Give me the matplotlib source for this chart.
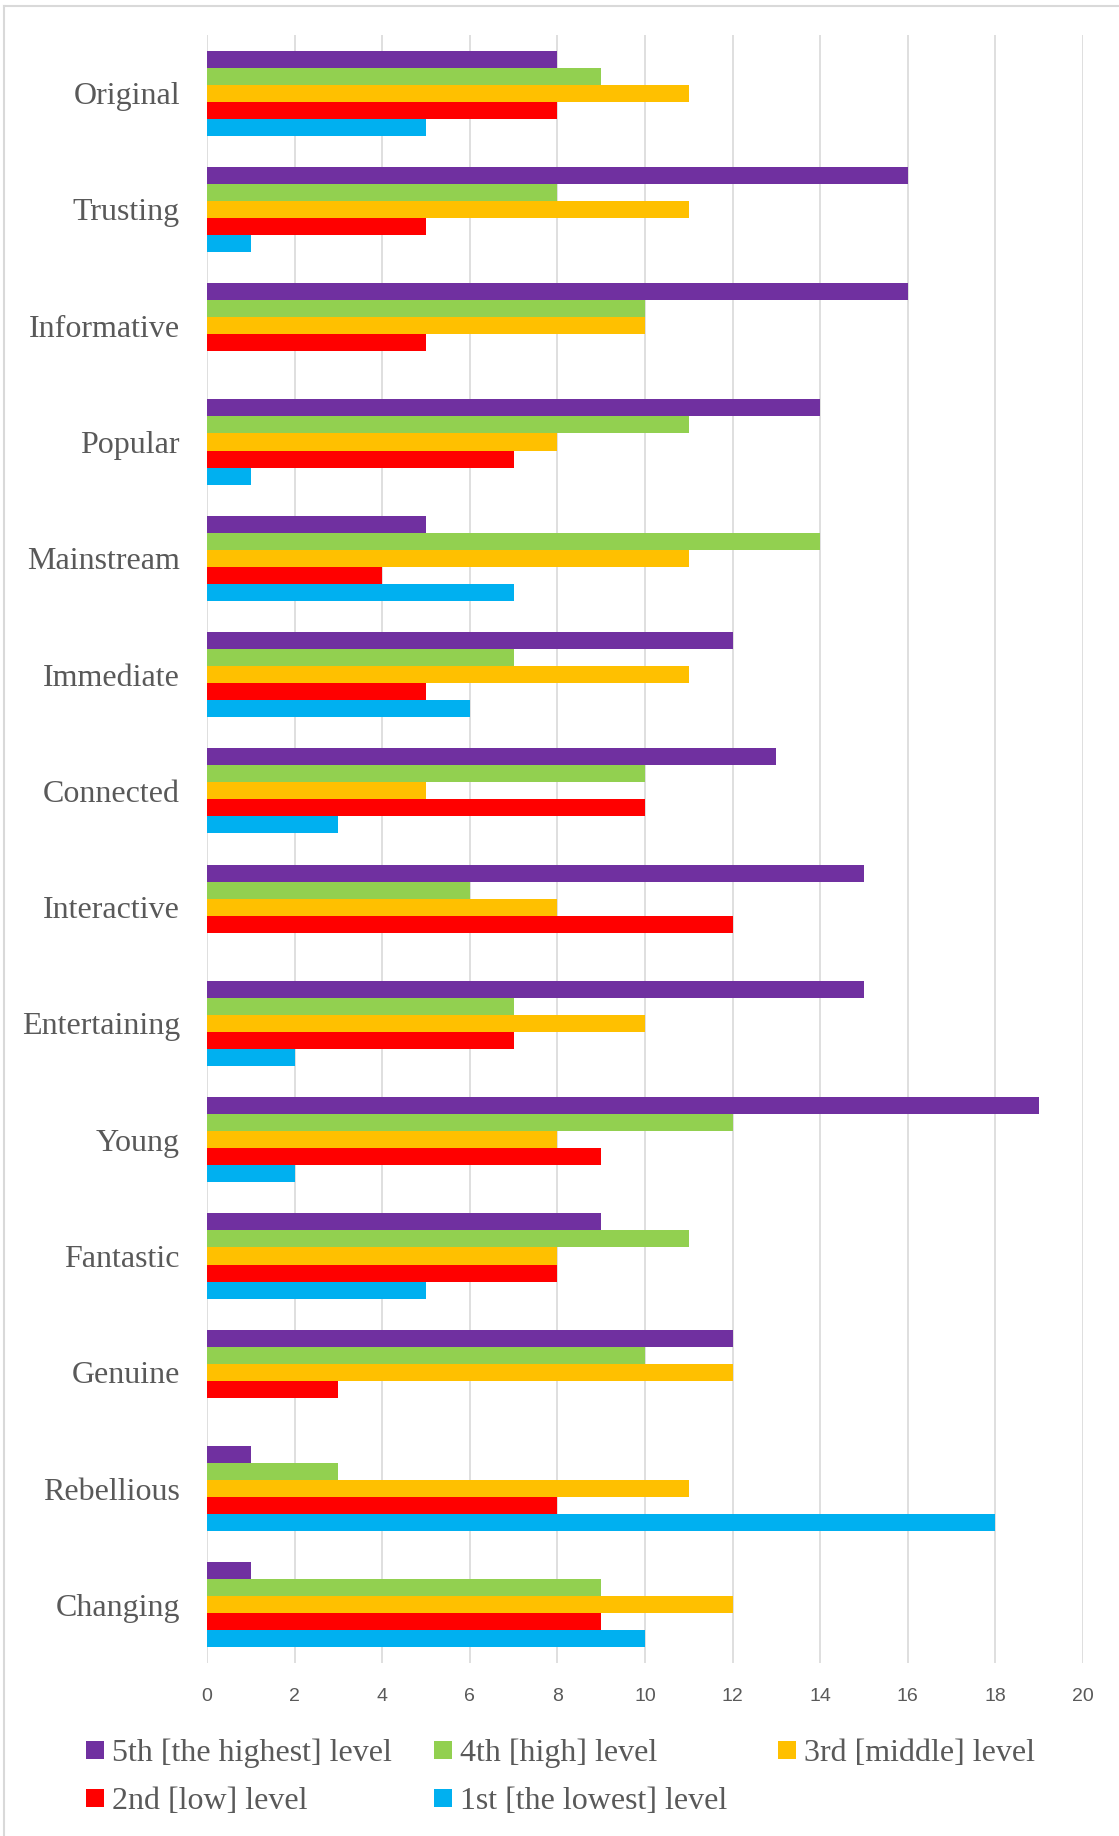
import matplotlib.pyplot as plt
import numpy as np
from matplotlib.lines import Line2D

categories = ["Original", "Trusting", "Informative", "Popular", "Mainstream",
              "Immediate", "Connected", "Interactive", "Entertaining", "Young",
              "Fantastic", "Genuine", "Rebellious", "Changing"]

level5 = [8, 16, 16, 14, 5, 12, 13, 15, 15, 19, 9, 12, 1, 1]
level4 = [9, 8, 10, 11, 14, 7, 10, 6, 7, 12, 11, 10, 3, 9]
level3 = [11, 11, 10, 8, 11, 11, 5, 8, 10, 8, 8, 12, 11, 12]
level2 = [8, 5, 5, 7, 4, 5, 10, 12, 7, 9, 8, 3, 8, 9]
level1 = [5, 1, 0, 1, 7, 6, 3, 0, 2, 2, 5, 0, 18, 10]

series_names = ["5th [the highest] level", "4th [high] level", "3rd [middle] level",
                "2nd [low] level", "1st [the lowest] level"]
series_values = [level5, level4, level3, level2, level1]
colors = ["#7030A0", "#92D050", "#FFC000", "#FF0000", "#00B0F0"]

text_color = "#595959"
grid_color = "#D9D9D9"
serif = ["Liberation Serif", "DejaVu Serif"]

W, H = 1119, 1836
fig = plt.figure(figsize=(W / 100, H / 100), dpi=100)
ax = fig.add_axes([207 / W, 1 - 1663 / H, (1083 - 207) / W, (1663 - 35) / H])

# five bars per category, gap width about 182% of one bar
bar_h = 1 / 6.82
y = np.arange(len(categories))
for k, (vals, col, name) in enumerate(zip(series_values, colors, series_names)):
    ax.barh(y + (k - 2) * bar_h, vals, height=bar_h, color=col, label=name,
            zorder=3, linewidth=0)

ax.set_ylim(len(categories) - 0.5, -0.5)
ax.set_xlim(0, 20)
ax.set_xticks(np.arange(0, 21, 2))
ax.set_yticks(y)
ax.set_yticklabels(categories, family=serif, fontsize=23, color=text_color)
ax.tick_params(axis="y", length=0, pad=19.5)
ax.tick_params(axis="x", length=0, pad=18, labelsize=14, labelcolor=text_color)
for lbl in ax.get_xticklabels():
    lbl.set_family(["Liberation Sans", "DejaVu Sans"])
ax.grid(axis="x", color=grid_color, linewidth=1.2, zorder=0)
for s in ax.spines.values():
    s.set_visible(False)

# legend laid out in three columns, two rows
handles = [Line2D([], [], marker="s", linestyle="none", markersize=12.5,
                  markerfacecolor=c, markeredgewidth=0) for c in colors]
col_x = [86, 434, 778]
for j in range(3):
    idx = [i for i in (j, j + 3) if i < len(handles)]
    leg = fig.legend([handles[i] for i in idx], [series_names[i] for i in idx],
                     loc="upper left", bbox_to_anchor=(col_x[j] / W, 1 - 1739 / H),
                     frameon=False, prop={"family": serif, "size": 23},
                     handlelength=0.55, handletextpad=0.25, borderpad=0,
                     borderaxespad=0, labelspacing=0.58, labelcolor=text_color)

# thin frame line on the left and top
fig.add_artist(Line2D([4 / W, 4 / W], [0, 1 - 6 / H], color=grid_color, linewidth=1.5))
fig.add_artist(Line2D([4 / W, 1], [1 - 6 / H, 1 - 6 / H], color=grid_color, linewidth=1.5))

fig.savefig("out.png", dpi=100, facecolor="white")
